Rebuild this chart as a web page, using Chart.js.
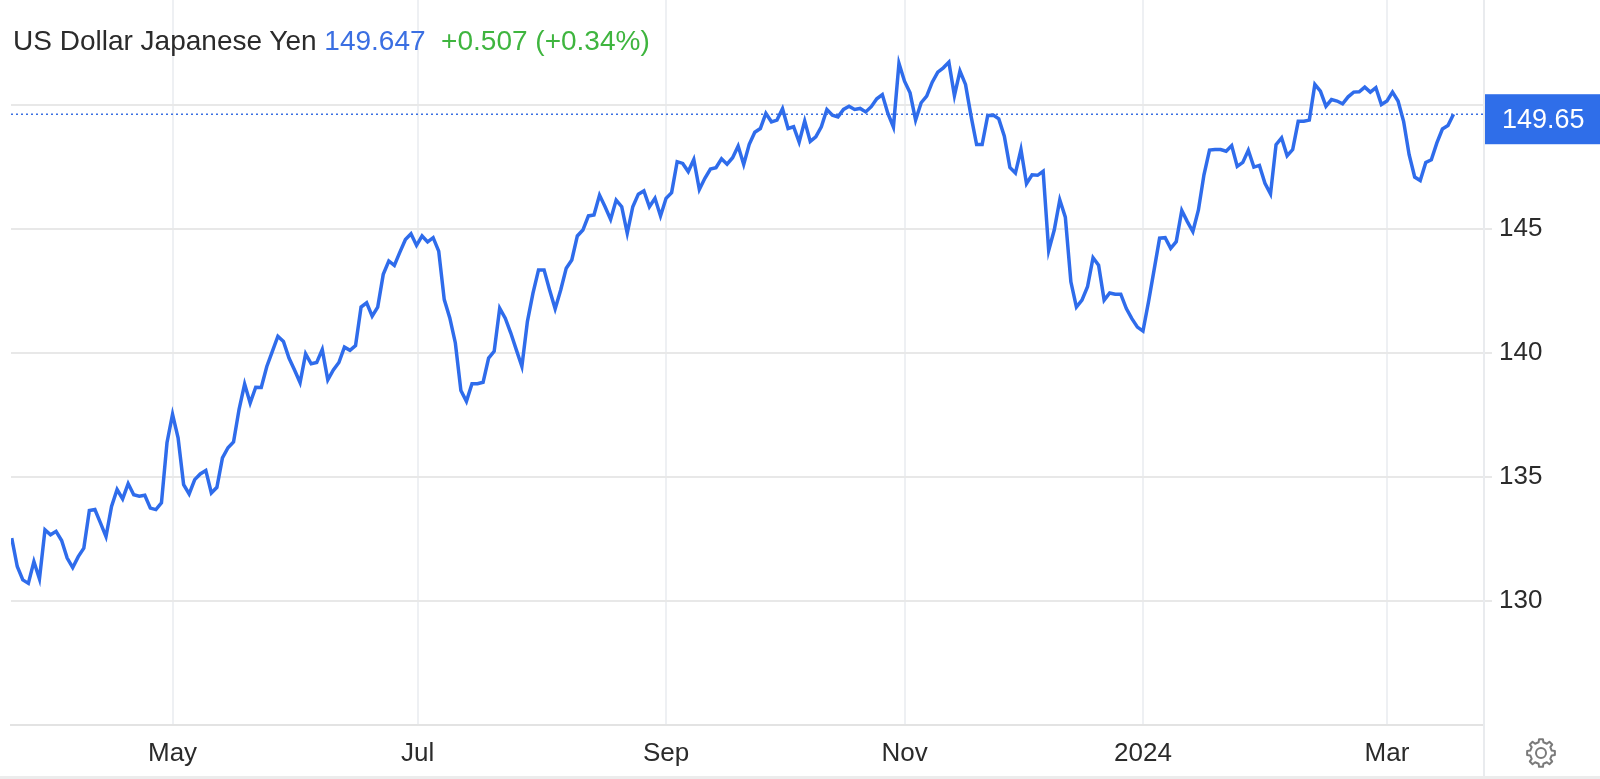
<!DOCTYPE html>
<html>
<head>
<meta charset="utf-8">
<title>US Dollar Japanese Yen</title>
<script src="https://cdn.jsdelivr.net/npm/chart.js@4.4.1/dist/chart.umd.min.js"></script>
<style>
  html, body { margin: 0; padding: 0; background: #fff; }
  body { width: 1600px; height: 779px; position: relative; overflow: hidden; font-family: "Liberation Sans", Arial, Helvetica, sans-serif; }
  #chart { position: absolute; left: 0; top: 0; }
  #title { position: absolute; left: 13px; top: 24px; font-size: 28px; line-height: 34px; color: #2b2b2b; white-space: pre; }
  #title .last { color: #3b6fe2; }
  #title .chg { color: #3fb53f; }
  #gear { position: absolute; left: 1525px; top: 737px; }
  #bottomLine { position: absolute; left: 0; top: 776px; width: 1600px; height: 3px; background: #ececec; }
</style>
</head>
<body>
<canvas id="chart" width="1600" height="779"></canvas>
<div id="title">US Dollar Japanese Yen <span class="last">149.647</span>  <span class="chg">+0.507 (+0.34%)</span></div>
<svg id="gear" width="32" height="32" viewBox="0 0 32 32"></svg>
<div id="bottomLine"></div>
<script>
// daily closes (weekdays), 21 Mar 2023 -> 19 Mar 2024
const values = [
  132.53, 131.38, 130.84, 130.70, 131.58, 130.88, 132.86, 132.66, 132.80, 132.43,
  131.72, 131.34, 131.78, 132.12, 133.64, 133.68, 133.14, 132.59, 133.81, 134.49,
  134.11, 134.73, 134.28, 134.22, 134.26, 133.74, 133.68, 133.95, 136.38, 137.53,
  136.58, 134.69, 134.31, 134.89, 135.12, 135.26, 134.35, 134.58, 135.77, 136.18,
  136.41, 137.73, 138.75, 137.98, 138.62, 138.61, 139.46, 140.07, 140.68, 140.47,
  139.80, 139.32, 138.81, 139.97, 139.57, 139.62, 140.14, 138.92, 139.32, 139.62,
  140.24, 140.11, 140.30, 141.86, 142.03, 141.49, 141.86, 143.18, 143.72, 143.54,
  144.08, 144.59, 144.82, 144.35, 144.73, 144.49, 144.66, 144.12, 142.16, 141.42,
  140.41, 138.49, 138.05, 138.76, 138.76, 138.82, 139.80, 140.07, 141.81, 141.41,
  140.81, 140.13, 139.46, 141.28, 142.42, 143.36, 143.36, 142.55, 141.79, 142.55,
  143.43, 143.76, 144.73, 144.97, 145.54, 145.58, 146.38, 145.91, 145.40, 146.18,
  145.91, 144.84, 145.91, 146.42, 146.55, 145.91, 146.25, 145.54, 146.25, 146.48,
  147.73, 147.66, 147.33, 147.82, 146.61, 147.06, 147.43, 147.49, 147.85, 147.63,
  147.89, 148.36, 147.62, 148.43, 148.92, 149.07, 149.68, 149.34, 149.41, 149.87,
  149.07, 149.14, 148.52, 149.37, 148.55, 148.73, 149.14, 149.84, 149.61, 149.54,
  149.84, 149.97, 149.84, 149.88, 149.74, 149.95, 150.27, 150.44, 149.68, 149.13,
  151.70, 150.98, 150.51, 149.41, 150.11, 150.38, 150.94, 151.35, 151.52, 151.75,
  150.40, 151.39, 150.85, 149.57, 148.42, 148.42, 149.59, 149.61, 149.46, 148.76,
  147.50, 147.27, 148.22, 146.84, 147.20, 147.18, 147.34, 144.14, 144.97, 146.19,
  145.49, 142.88, 141.86, 142.14, 142.68, 143.85, 143.55, 142.14, 142.43, 142.38,
  142.38, 141.80, 141.39, 141.05, 140.89, 142.07, 143.35, 144.64, 144.66, 144.23,
  144.50, 145.76, 145.31, 144.91, 145.78, 147.20, 148.20, 148.22, 148.22, 148.15,
  148.38, 147.54, 147.70, 148.19, 147.51, 147.58, 146.86, 146.43, 148.42, 148.69,
  147.97, 148.22, 149.36, 149.36, 149.41, 150.85, 150.58, 149.97, 150.24, 150.18,
  150.07, 150.35, 150.54, 150.55, 150.74, 150.54, 150.72, 150.04, 150.18, 150.54,
  150.18, 149.36, 148.01, 147.11, 146.97, 147.70, 147.81, 148.49, 149.05, 149.19,
  149.647
];

// month starts, as positions in the weekday index
const monthPos = [29, 73.2, 118, 161, 204, 248];
const monthLabels = ["May", "Jul", "Sep", "Nov", "2024", "Mar"];
const yTicks = [130, 135, 140, 145, 150];

const lastValue = values[values.length - 1];
const lineBlue = "#2f6ceb";
const fontFamily = "'Liberation Sans', Arial, Helvetica, sans-serif";

// current price: dotted line + blue label on the axis
const lastPricePlugin = {
    id: "lastPrice",
    afterDatasetsDraw(chart) {
        const ctx = chart.ctx;
        const area = chart.chartArea;
        const y = chart.scales.y.getPixelForValue(lastValue);
        ctx.save();
        ctx.strokeStyle = "#3b6fe2";
        ctx.lineWidth = 1.5;
        ctx.setLineDash([2, 3]);
        ctx.beginPath();
        ctx.moveTo(area.left, y);
        ctx.lineTo(area.right, y);
        ctx.stroke();
        ctx.restore();
    },
    afterDraw(chart) {
        const ctx = chart.ctx;
        const area = chart.chartArea;
        const y = chart.scales.y.getPixelForValue(lastValue);
        ctx.save();
        // separator between plot and axis
        ctx.fillStyle = "#e9ebee";
        ctx.fillRect(area.right - 1, 0, 2, chart.height);
        // price box
        ctx.fillStyle = "#2f6ee9";
        ctx.fillRect(area.right + 1, y - 20, chart.width - area.right - 1, 50);
        ctx.fillStyle = "#ffffff";
        ctx.font = "27px " + fontFamily;
        ctx.textBaseline = "middle";
        ctx.textAlign = "left";
        ctx.fillText(lastValue.toFixed(2), area.right + 18, y + 6);
        ctx.restore();
    }
};

new Chart(document.getElementById("chart"), {
    type: "line",
    data: {
        datasets: [{
            data: values.map((v, i) => ({ x: i, y: v })),
            borderColor: lineBlue,
            borderWidth: 3.5,
            pointRadius: 0,
            tension: 0,
            fill: false
        }]
    },
    options: {
        responsive: false,
        animation: false,
        layout: { padding: { left: 11, top: 0, right: 0, bottom: 0 } },
        plugins: { legend: { display: false }, tooltip: { enabled: false } },
        scales: {
            x: {
                type: "linear",
                min: -0.13,
                max: 265.5,
                afterBuildTicks: axis => { axis.ticks = monthPos.map(v => ({ value: v })); },
                afterFit: scale => { scale.height = 54.5; scale.paddingLeft = 0; scale.paddingRight = 0; },
                ticks: {
                    autoSkip: false,
                    maxRotation: 0,
                    padding: 14,
                    color: "#2b2b2b",
                    font: { size: 26, family: fontFamily },
                    callback: (value, index) => monthLabels[index]
                },
                grid: { color: "#eef0f3", lineWidth: 2, drawTicks: false },
                border: { color: "#e3e3e3", width: 2 }
            },
            y: {
                position: "right",
                min: 125,
                max: 154.26,
                afterBuildTicks: axis => { axis.ticks = yTicks.map(v => ({ value: v })); },
                afterFit: scale => { scale.width = 116; scale.paddingTop = 0; scale.paddingBottom = 0; },
                ticks: {
                    padding: 7,
                    color: "#2b2b2b",
                    font: { size: 26, family: fontFamily },
                    callback: value => value
                },
                grid: { color: "#e8e8e8", lineWidth: 2, tickLength: 8 },
                border: { display: false }
            }
        }
    },
    plugins: [lastPricePlugin]
});

// settings gear
const gear = document.getElementById("gear");
let pts = [];
for (let k = 0; k < 8; k++) {
    const a = k * Math.PI / 4;
    [[-0.22, 11], [-0.14, 14], [0.14, 14], [0.22, 11]].forEach(p => {
        pts.push((16 + p[1] * Math.cos(a + p[0])).toFixed(2) + "," + (16 + p[1] * Math.sin(a + p[0])).toFixed(2));
    });
}
gear.innerHTML = '<polygon points="' + pts.join(" ") + '" fill="none" stroke="#7a7a7a" stroke-width="2" stroke-linejoin="round"/>' +
    '<circle cx="16" cy="16" r="5" fill="none" stroke="#7a7a7a" stroke-width="2"/>';
</script>
</body>
</html>
